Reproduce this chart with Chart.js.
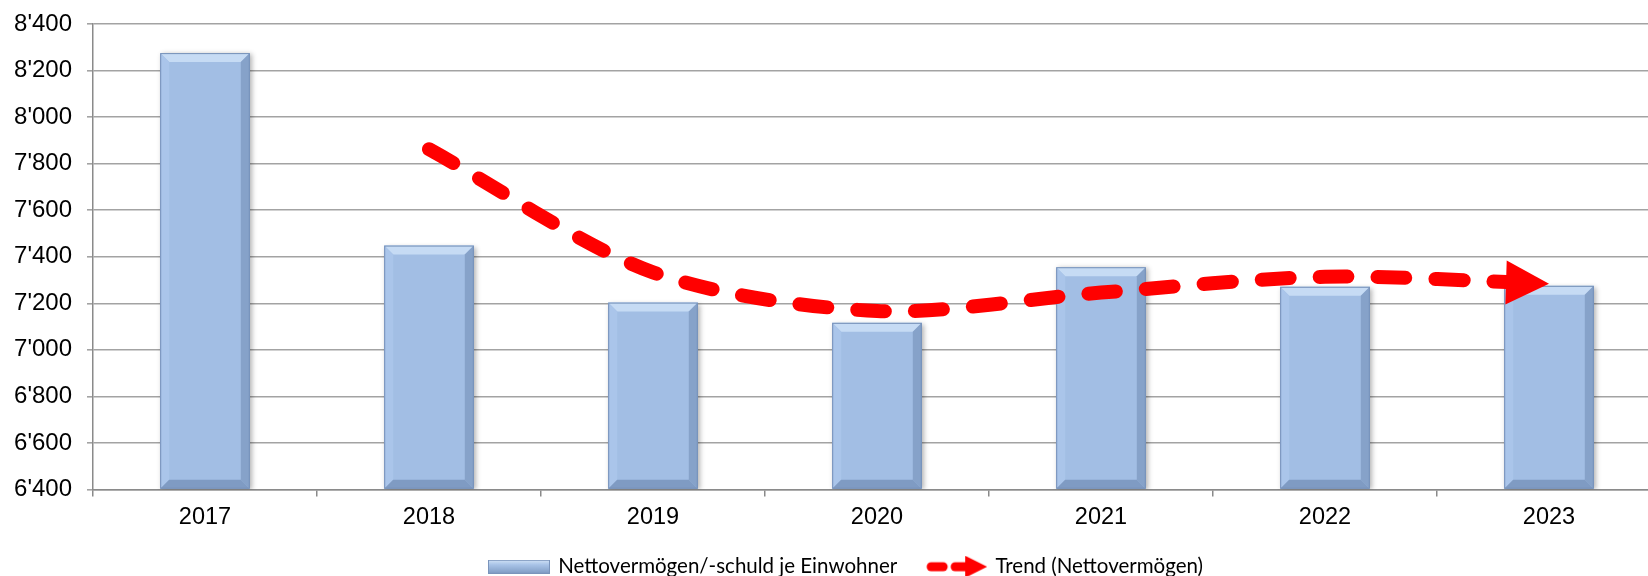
<!DOCTYPE html>
<html>
<head>
<meta charset="utf-8">
<title>Nettovermögen je Einwohner</title>
<script src="https://cdn.jsdelivr.net/npm/chart.js@4/dist/chart.umd.min.js"></script>
<style>
  html, body { margin: 0; padding: 0; background: #fff; overflow: hidden; }
  #wrap { position: absolute; left: 0; top: 0; width: 1664px; height: 587px; }
</style>
</head>
<body>
<div id="wrap"><canvas id="chart" width="1664" height="587"></canvas></div>
<script>
// values
const years = ['2017', '2018', '2019', '2020', '2021', '2022', '2023'];
const nettoJeEinwohner = [8275, 7448, 7203, 7116, 7355, 7271, 7275];
const trendNetto = [null, 7862, 7333, 7167, 7246, 7314, 7284];
const yMin = 6400;
const yMax = 8400;
const yStep = 200;
const legendLabels = ['Nettovermögen/-schuld je Einwohner', 'Trend (Nettovermögen)'];

const barFace = '#a2bee4';
const trendRed = '#ff0000';

// swiss style thousands: 8'400
function swiss(v) {
    return String(v).replace(/\B(?=(\d{3})+(?!\d))/g, "'");
}

function poly(ctx, pts, color) {
    ctx.beginPath();
    ctx.moveTo(pts[0][0], pts[0][1]);
    for (let i = 1; i < pts.length; i++) ctx.lineTo(pts[i][0], pts[i][1]);
    ctx.closePath();
    ctx.fillStyle = color;
    ctx.fill();
}

// legend swatches
function barSwatch() {
    const c = document.createElement('canvas');
    c.width = 62; c.height = 14;
    const g = c.getContext('2d');
    const grad = g.createLinearGradient(0, 0, 0, 14);
    grad.addColorStop(0, '#d3e3f6');
    grad.addColorStop(0.35, '#a9c4e8');
    grad.addColorStop(1, '#7e9ac2');
    g.fillStyle = grad;
    g.fillRect(0, 0, 62, 14);
    g.strokeStyle = '#7a94bb';
    g.strokeRect(0.5, 0.5, 61, 13);
    return c;
}

function trendSwatch() {
    const c = document.createElement('canvas');
    c.width = 62; c.height = 22;
    const g = c.getContext('2d');
    g.strokeStyle = trendRed;
    g.lineWidth = 9;
    g.lineCap = 'round';
    g.beginPath(); g.moveTo(6, 11); g.lineTo(18, 11); g.stroke();
    g.beginPath(); g.moveTo(30, 11); g.lineTo(42, 11); g.stroke();
    g.fillStyle = trendRed;
    g.beginPath(); g.moveTo(40, 0); g.lineTo(62, 11); g.lineTo(40, 22); g.closePath(); g.fill();
    return c;
}

// shadow + bevel look of the bars, arrow head of the trend
const bevelBars = {
    id: 'bevelBars',
    afterLayout(chart) {
        // legend sits a bit right of the canvas centre in the original
        chart.legend.left += 16;
        chart.legend.right += 16;
    },
    beforeDatasetDraw(chart, args) {
        const ctx = chart.ctx;
        ctx.save();
        if (args.index === 0) {
            ctx.shadowColor = 'rgba(0,0,0,0.3)';
            ctx.shadowBlur = 5;
            ctx.shadowOffsetX = 2;
            ctx.shadowOffsetY = 1;
        } else {
            // stop the dashes short of the arrow head
            const pts = args.meta.data;
            const last = pts[pts.length - 1];
            ctx.beginPath();
            ctx.rect(0, 0, last.x - 36, chart.height);
            ctx.clip();
        }
    },
    afterDatasetDraw(chart, args) {
        const ctx = chart.ctx;
        ctx.restore();
        if (args.index === 0) {
            args.meta.data.forEach(bar => {
                const l = bar.x - bar.width / 2, r = bar.x + bar.width / 2;
                const t = bar.y, b = bar.base, s = 9;
                poly(ctx, [[l, t], [r, t], [r - s, t + s], [l + s, t + s]], '#c6dbf4');
                poly(ctx, [[l, t], [l + s, t + s], [l + s, b - s], [l, b]], '#aac5ea');
                poly(ctx, [[r, t], [r - s, t + s], [r - s, b - s], [r, b]], '#86a2c9');
                poly(ctx, [[l, b], [l + s, b - s], [r - s, b - s], [r, b]], '#7f9bc3');
                ctx.strokeStyle = '#7590b8';
                ctx.lineWidth = 1;
                ctx.strokeRect(l + 0.5, t + 0.5, r - l - 1, b - t - 1);
            });
        } else {
            const pts = args.meta.data;
            const last = pts[pts.length - 1];
            const prev = pts[pts.length - 2];
            let ang = Math.atan2(last.y - prev.y, last.x - prev.x);
            if (last.cp1x !== undefined && last.cp1x !== last.x) {
                ang = Math.atan2(last.y - last.cp1y, last.x - last.cp1x);
            }
            ctx.save();
            ctx.translate(last.x, last.y);
            ctx.rotate(ang);
            ctx.fillStyle = trendRed;
            ctx.beginPath();
            ctx.moveTo(0, 0);
            ctx.lineTo(-43, -22);
            ctx.lineTo(-43, 22);
            ctx.closePath();
            ctx.fill();
            ctx.restore();
        }
    }
};

const ctx = document.getElementById('chart').getContext('2d');
new Chart(ctx, {
    type: 'bar',
    data: {
        labels: years,
        datasets: [{
            label: legendLabels[0],
            data: nettoJeEinwohner,
            base: yMin,
            backgroundColor: barFace,
            borderWidth: 0,
            barPercentage: 0.8,
            categoryPercentage: 0.5,
            order: 1
        }, {
            type: 'line',
            label: legendLabels[1],
            data: trendNetto,
            borderColor: trendRed,
            borderWidth: 14,
            borderDash: [28, 30],
            borderCapStyle: 'round',
            borderJoinStyle: 'round',
            pointRadius: 0,
            tension: 0.3,
            fill: false,
            order: 0
        }]
    },
    options: {
        responsive: false,
        animation: false,
        layout: { padding: { top: 24, left: 0, right: 3, bottom: 0 } },
        plugins: {
            tooltip: { enabled: false },
            legend: {
                position: 'bottom',
                labels: {
                    usePointStyle: true,
                    pointStyleWidth: 58,
                    padding: 30,
                    color: '#000',
                    font: { family: 'Lato', size: 20.5 },
                    generateLabels: () => [
                        { text: legendLabels[0], pointStyle: barSwatch(), datasetIndex: 0, lineWidth: 0, hidden: false },
                        { text: legendLabels[1], pointStyle: trendSwatch(), datasetIndex: 1, lineWidth: 0, hidden: false }
                    ]
                }
            }
        },
        scales: {
            x: {
                grid: { drawOnChartArea: false, offset: true, tickLength: 7, color: '#8a8a8a', lineWidth: 1.5 },
                border: { color: '#8a8a8a', width: 1.5 },
                ticks: { color: '#000', padding: 7, font: { family: 'Liberation Sans', size: 23.5 } },
                afterFit: scale => { scale.height = 37; }
            },
            y: {
                min: yMin,
                max: yMax,
                grid: { color: '#a3a3a3', lineWidth: 1.6, tickLength: 6 },
                border: { color: '#8a8a8a', width: 1.5 },
                ticks: {
                    stepSize: yStep,
                    color: '#000',
                    padding: 15,
                    font: { family: 'Liberation Sans', size: 24 },
                    callback: v => swiss(v)
                },
                afterFit: scale => {
                    scale.width = 93;
                    scale.paddingTop = 0;
                    scale.paddingBottom = 0;
                }
            }
        }
    },
    plugins: [bevelBars]
});
</script>
</body>
</html>
